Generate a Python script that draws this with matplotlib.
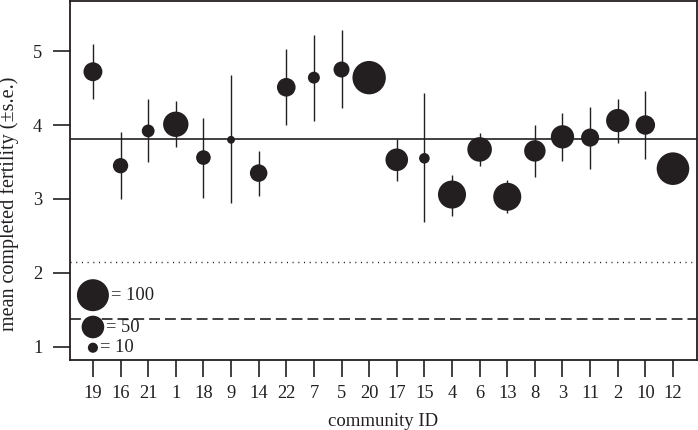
import matplotlib
matplotlib.use("Agg")
import matplotlib.pyplot as plt
import numpy as np

# community IDs in plotted order
community = ['19', '16', '21', '1', '18', '9', '14', '22', '7', '5', '20',
             '17', '15', '4', '6', '13', '8', '3', '11', '2', '10', '12']
fertility = [4.72, 3.45, 3.92, 4.01, 3.56, 3.80, 3.35, 4.51, 4.64, 4.75, 4.64,
             3.53, 3.55, 3.06, 3.67, 3.03, 3.65, 3.84, 3.83, 4.06, 4.00, 3.41]
err_hi = [5.10, 3.90, 4.35, 4.33, 4.10, 4.67, 3.65, 5.03, 5.22, 5.28, 4.70,
          3.81, 4.43, 3.33, 3.89, 3.26, 4.00, 4.16, 4.25, 4.35, 4.46, 3.50]
err_lo = [4.35, 3.00, 3.50, 3.70, 3.01, 2.94, 3.04, 4.00, 4.06, 4.23, 4.58,
          3.24, 2.69, 2.77, 3.45, 2.81, 3.30, 3.52, 3.40, 3.76, 3.54, 3.32]
sample_n = [35, 23, 16, 63, 21, 6, 30, 34, 14, 25, 109,
            50, 11, 77, 59, 77, 45, 53, 32, 53, 37, 104]

mean_all = 3.81
line_dotted = 2.15
line_dashed = 1.38

legend_n = [100, 50, 10]
legend_y = [1.70, 1.27, 0.99]

ink = '#231f20'
plt.rcParams['font.family'] = ['Liberation Serif', 'DejaVu Serif']

fig = plt.figure(figsize=(6.98, 4.30), dpi=100)
ax = fig.add_axes([70 / 698, 70 / 430, 627 / 698, 359 / 430])

x = np.arange(len(community))
size_scale = 5.3  # marker area per person

ax.axhline(mean_all, color=ink, lw=1.2, zorder=1)
ax.axhline(line_dotted, color=ink, lw=1.0, dashes=(0.8, 3.3), zorder=1)
ax.axhline(line_dashed, color=ink, lw=1.2, dashes=(6.5, 3.0), zorder=1)

ax.vlines(x, err_lo, err_hi, color=ink, lw=1.0, zorder=2)
ax.scatter(x, fertility, s=np.array(sample_n) * size_scale, color=ink,
           edgecolors='none', zorder=3)

# size key
ax.scatter([0] * 3, legend_y, s=np.array(legend_n) * size_scale, color=ink,
           edgecolors='none', zorder=3)
for n, yy in zip(legend_n, legend_y):
    r = np.sqrt(n * size_scale) / 2
    ax.annotate('= %d' % n, (0, yy), xytext=(r + 1.5, 0),
                textcoords='offset points', va='center', ha='left',
                fontsize=13.3, color=ink)

ax.set_xlim(-0.83, 21.87)
ax.set_ylim(0.824, 5.676)
ax.set_xticks(x)
ax.set_xticklabels(community)
ax.set_yticks([1, 2, 3, 4, 5])
ax.tick_params(axis='both', length=12, width=1.2, color=ink,
               labelsize=13.3, labelcolor=ink)
ax.tick_params(axis='x', pad=6)
ax.tick_params(axis='y', pad=8)
for sp in ax.spines.values():
    sp.set_linewidth(1.3)
    sp.set_color(ink)

ax.set_xlabel('community ID', fontsize=13.5, color=ink)
ax.xaxis.set_label_coords(0.5, -0.148)
ax.set_ylabel('mean completed fertility (±s.e.)', fontsize=14.5, color=ink)
ax.yaxis.set_label_coords(-0.082, 0.435)

fig.savefig('out.png', dpi=100)
